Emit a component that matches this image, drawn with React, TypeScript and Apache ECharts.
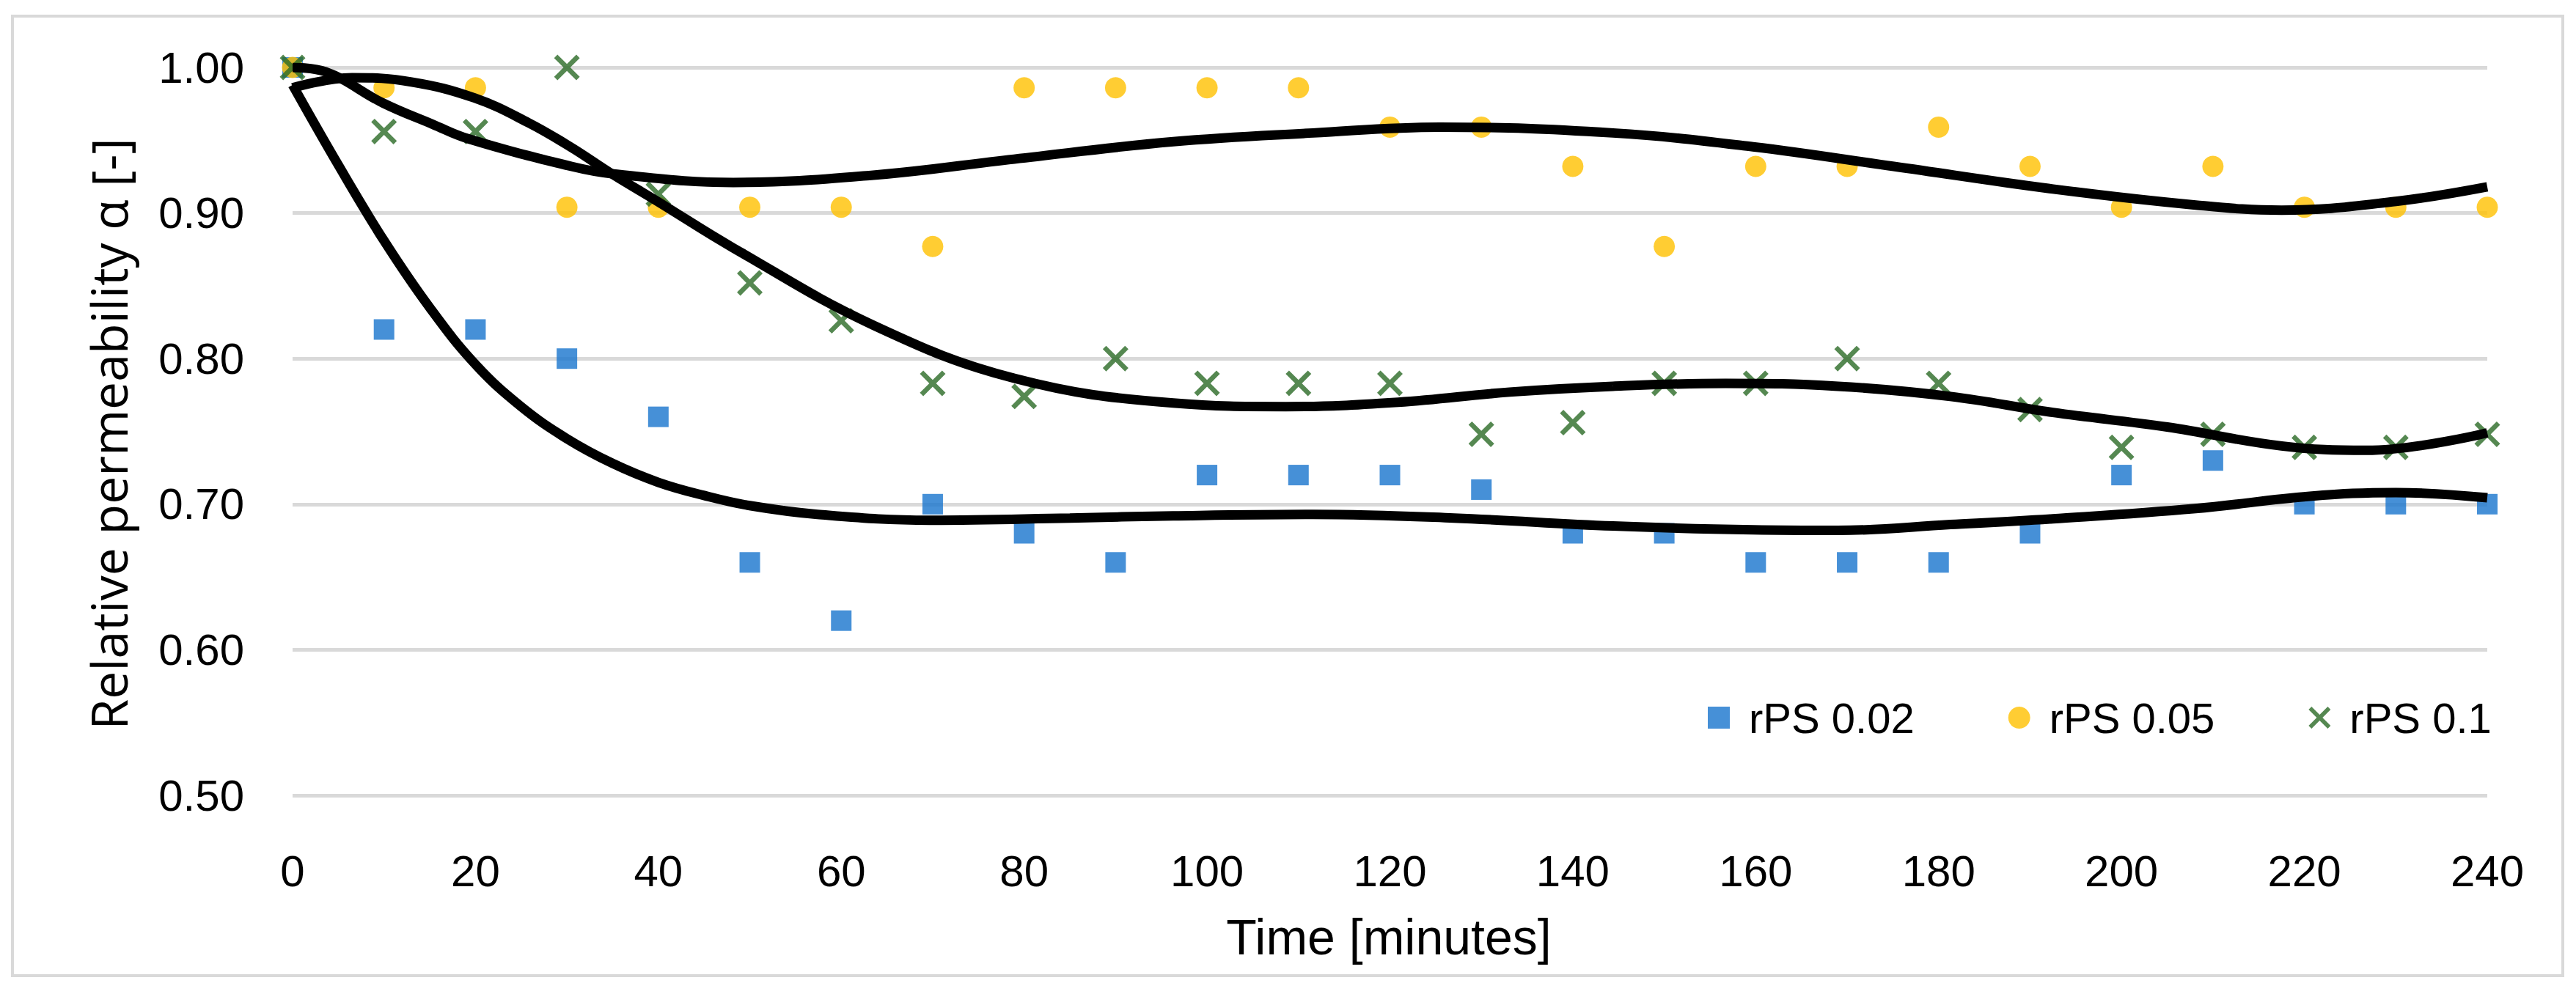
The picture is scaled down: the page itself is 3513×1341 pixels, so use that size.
import React, { useEffect, useRef } from "react";
import * as echarts from "echarts";

// ---- data ----
const times = [0, 10, 20, 30, 40, 50, 60, 70, 80, 90, 100, 110, 120, 130, 140, 150, 160, 170, 180, 190, 200, 210, 220, 230, 240];
const rps002 = [1.0, 0.82, 0.82, 0.8, 0.76, 0.66, 0.62, 0.7, 0.68, 0.66, 0.72, 0.72, 0.72, 0.71, 0.68, 0.68, 0.66, 0.66, 0.66, 0.68, 0.72, 0.73, 0.7, 0.7, 0.7];
const rps005 = [1.0, 0.986, 0.986, 0.904, 0.904, 0.904, 0.904, 0.877, 0.986, 0.986, 0.986, 0.986, 0.959, 0.959, 0.932, 0.877, 0.932, 0.932, 0.959, 0.932, 0.904, 0.932, 0.904, 0.904, 0.904];
const rps01 = [1.0, 0.956, 0.956, 1.0, 0.913, 0.852, 0.826, 0.783, 0.774, 0.8, 0.783, 0.783, 0.783, 0.748, 0.756, 0.783, 0.783, 0.8, 0.783, 0.765, 0.739, 0.748, 0.739, 0.739, 0.748];

// trend lines
const trend002T = [0, 5, 10, 15, 20, 25, 30, 35, 40, 45, 50, 57.4, 69.7, 85, 96.3, 111.6, 127, 144.4, 159.7, 169, 181.3, 192.5, 208.1, 220.6, 230, 240];
const trend002V = [0.988, 0.933, 0.881, 0.835, 0.796, 0.767, 0.745, 0.728, 0.715, 0.706, 0.699, 0.693, 0.689, 0.6905, 0.692, 0.693, 0.6905, 0.685, 0.6824, 0.682, 0.686, 0.69, 0.697, 0.7054, 0.708, 0.7044];
const trend005T = [0, 3.6, 9.9, 15.3, 19.2, 30.5, 34.9, 48.2, 63.5, 78.9, 96.3, 111.6, 125.5, 144.4, 159.7, 175.1, 192.5, 208.1, 217.5, 230, 240];
const trend005V = [1.0, 0.997, 0.9755, 0.961, 0.951, 0.932, 0.927, 0.921, 0.926, 0.937, 0.949, 0.955, 0.959, 0.955, 0.9455, 0.932, 0.9165, 0.9055, 0.902, 0.908, 0.918];
const trend01T = [0, 6.5, 13, 19.9, 25.8, 30.5, 34.9, 39.9, 48.2, 63.5, 78.9, 96.3, 108.6, 120.9, 133.1, 144.4, 156.7, 169, 181.3, 192.5, 205, 217.5, 226.8, 240];
const trend01V = [0.986, 0.993, 0.99, 0.979, 0.962, 0.945, 0.927, 0.908, 0.876, 0.823, 0.7865, 0.7695, 0.767, 0.77, 0.777, 0.781, 0.783, 0.781, 0.774, 0.763, 0.753, 0.74, 0.737, 0.749];

const seriesNames = ["rPS 0.02", "rPS 0.05", "rPS 0.1"];
const xTicks = { min: 0, max: 240, interval: 20 };
const yTicks = { min: 0.5, max: 1.0, interval: 0.1 };

const X_PATH =
  "path://M0,4.5 L4.5,0 L17,12.5 L29.5,0 L34,4.5 L21.5,17 L34,29.5 L29.5,34 L17,21.5 L4.5,34 L0,29.5 L12.5,17 Z";

const zip = (a: number[], b: number[]) => a.map((v, i) => [v, b[i]]);

export default function App() {
  const ref = useRef<HTMLDivElement>(null);
  useEffect(() => {
    if (!ref.current) return;
    const chart = echarts.init(ref.current, undefined, { renderer: "svg" });
    const font = "'Liberation Sans', Arial, sans-serif";
    const trendStyle = { color: "#000", width: 13, cap: "butt" as const };
    chart.setOption({
      animation: false,
      backgroundColor: "#fff",
      grid: { left: 399, top: 92, right: 121, bottom: 256, containLabel: false },
      xAxis: {
        type: "value",
        min: xTicks.min,
        max: xTicks.max,
        interval: xTicks.interval,
        axisLine: { show: false },
        axisTick: { show: false },
        splitLine: { show: false },
        axisLabel: { color: "#000", fontSize: 60, fontFamily: font, margin: 73 },
      },
      yAxis: {
        type: "value",
        min: yTicks.min,
        max: yTicks.max,
        interval: yTicks.interval,
        axisLine: { show: false },
        axisTick: { show: false },
        splitLine: { show: true, lineStyle: { color: "#d9d9d9", width: 5 } },
        axisLabel: {
          color: "#000",
          fontSize: 60,
          fontFamily: font,
          margin: 66,
          formatter: (v: number) => v.toFixed(2),
        },
      },
      legend: {
        data: seriesNames,
        left: 2329,
        top: 950,
        padding: 0,
        itemWidth: 30,
        itemHeight: 30,
        itemGap: 128,
        textStyle: { color: "#000", fontSize: 58, fontFamily: font, padding: [0, 0, 0, 21] },
      },
      graphic: [
        {
          type: "rect",
          shape: { x: 17, y: 22, width: 3478, height: 1309 },
          style: { fill: "none", stroke: "#d9d9d9", lineWidth: 4 },
          z: -10,
          silent: true,
        },
        {
          type: "text",
          x: 147,
          y: 592,
          rotation: Math.PI / 2,
          style: {
            text: "Relative permeability α [-]",
            fontSize: 68,
            fontFamily: "'Open Sans', sans-serif",
            fill: "#000",
            textAlign: "center",
            textVerticalAlign: "middle",
          },
        },
        {
          type: "text",
          x: 1894,
          y: 1278,
          style: {
            text: "Time [minutes]",
            fontSize: 68,
            fontFamily: font,
            fill: "#000",
            textAlign: "center",
            textVerticalAlign: "middle",
          },
        },
      ],
      series: [
        {
          name: seriesNames[0],
          type: "scatter",
          symbol: "rect",
          symbolSize: 28,
          itemStyle: { color: "#1874CD" },
          data: zip(times, rps002),
          z: 2,
        },
        {
          name: seriesNames[1],
          type: "scatter",
          symbol: "circle",
          symbolSize: 29,
          itemStyle: { color: "#FFC000" },
          data: zip(times, rps005),
          z: 2,
        },
        {
          name: seriesNames[2],
          type: "scatter",
          symbol: X_PATH,
          symbolSize: 35,
          itemStyle: { color: "#2B6A26" },
          data: zip(times, rps01),
          z: 2,
        },
        {
          name: "trend 0.02",
          type: "line",
          smooth: 0.4,
          showSymbol: false,
          silent: true,
          lineStyle: trendStyle,
          data: zip(trend002T, trend002V),
          z: 3,
        },
        {
          name: "trend 0.05",
          type: "line",
          smooth: 0.4,
          showSymbol: false,
          silent: true,
          lineStyle: trendStyle,
          data: zip(trend005T, trend005V),
          z: 3,
        },
        {
          name: "trend 0.1",
          type: "line",
          smooth: 0.4,
          showSymbol: false,
          silent: true,
          lineStyle: trendStyle,
          data: zip(trend01T, trend01V),
          z: 3,
        },
      ],
    });
    return () => chart.dispose();
  }, []);
  return (
    <div
      ref={ref}
      style={{ position: "fixed", left: 0, top: 0, width: "3513px", height: "1341px", background: "#fff" }}
    />
  );
}
